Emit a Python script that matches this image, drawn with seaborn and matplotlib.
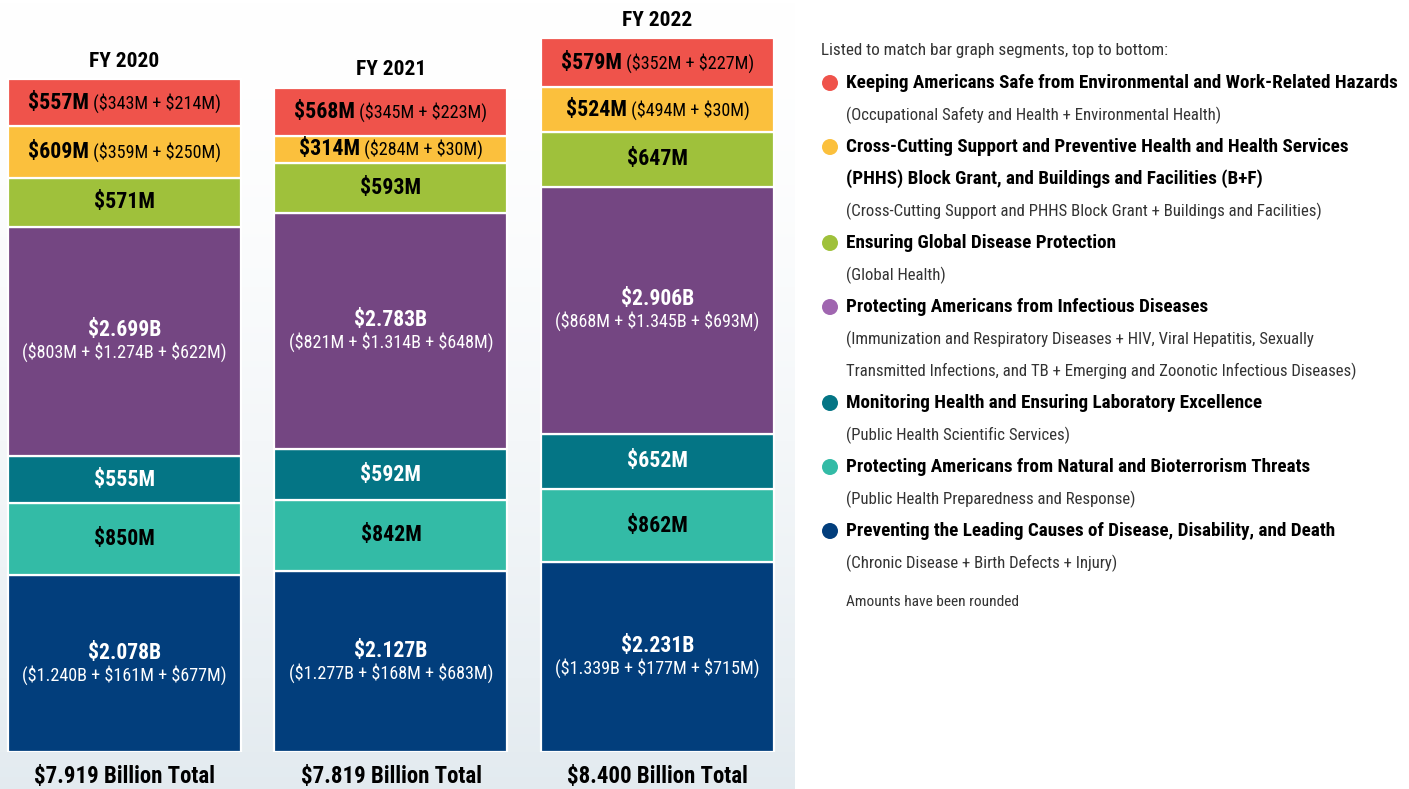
import numpy as np
import pandas as pd
import matplotlib
matplotlib.use("Agg")
import matplotlib.pyplot as plt
import seaborn as sns
from matplotlib import font_manager as fm
from matplotlib.patches import Ellipse

# ---------------- data ----------------
years = ["FY 2020", "FY 2021", "FY 2022"]
totals_label = ["$7.919 Billion Total", "$7.819 Billion Total", "$8.400 Billion Total"]

# segments, bottom to top (values in $M)
leading = [2078, 2127, 2231]
threats = [850, 842, 862]
monitoring = [555, 592, 652]
infectious = [2699, 2783, 2906]
global_health = [571, 593, 647]
crosscut = [609, 314, 524]
safe = [557, 568, 579]

leading_parts = [(1240, 161, 677), (1277, 168, 683), (1339, 177, 715)]
infectious_parts = [(803, 1274, 622), (821, 1314, 648), (868, 1345, 693)]
crosscut_parts = [(359, 250), (284, 30), (494, 30)]
safe_parts = [(343, 214), (345, 223), (352, 227)]

seg_names = ["leading", "threats", "monitoring", "infectious", "global", "crosscut", "safe"]
seg_values = [leading, threats, monitoring, infectious, global_health, crosscut, safe]
seg_colors = ["#023E7C", "#33BBA6", "#047585", "#744682", "#9FC13B", "#FBC03D", "#EF534B"]
seg_parts = [leading_parts, None, None, infectious_parts, None, crosscut_parts, safe_parts]
seg_textcolor = ["white", "black", "white", "white", "black", "black", "black"]
seg_inline = [False, False, False, False, False, True, True]

legend_intro = "Listed to match bar graph segments, top to bottom:"
legend_note = "Amounts have been rounded"
legend_items = [
    ("#EF534B", ["Keeping Americans Safe from Environmental and Work-Related Hazards"],
     ["(Occupational Safety and Health + Environmental Health)"]),
    ("#FBC03D", ["Cross-Cutting Support and Preventive Health and Health Services",
                 "(PHHS) Block Grant, and Buildings and Facilities (B+F)"],
     ["(Cross-Cutting Support and PHHS Block Grant + Buildings and Facilities)"]),
    ("#9FC13B", ["Ensuring Global Disease Protection"], ["(Global Health)"]),
    ("#A066B0", ["Protecting Americans from Infectious Diseases"],
     ["(Immunization and Respiratory Diseases + HIV, Viral Hepatitis, Sexually",
      "Transmitted Infections, and TB + Emerging and Zoonotic Infectious Diseases)"]),
    ("#047585", ["Monitoring Health and Ensuring Laboratory Excellence"],
     ["(Public Health Scientific Services)"]),
    ("#33BBA6", ["Protecting Americans from Natural and Bioterrorism Threats"],
     ["(Public Health Preparedness and Response)"]),
    ("#023E7C", ["Preventing the Leading Causes of Disease, Disability, and Death"],
     ["(Chronic Disease + Birth Defects + Injury)"]),
]


def fmt(v):
    return f"${v/1000:.3f}B" if v >= 1000 else f"${v}M"


def fmt_parts(p):
    return "(" + " + ".join(fmt(v) for v in p) + ")"


# ---------------- font choice (prefer a condensed face) ----------------
sns.set_theme(style="white")
names = {f.name for f in fm.fontManager.ttflist}
stretch_map = {}
for f in fm.fontManager.ttflist:
    stretch_map.setdefault(f.name, set()).add(str(f.stretch))
FAMILY, STRETCH = "Liberation Sans", "normal"
for pref in ["Roboto Condensed", "Liberation Sans Narrow", "Open Sans Condensed",
             "Noto Sans Condensed", "Arial Narrow", "DejaVu Sans Condensed"]:
    if pref in names:
        FAMILY, STRETCH = pref, "normal"
        break
else:
    for fam in ["Roboto", "Noto Sans", "Open Sans", "DejaVu Sans", "Liberation Sans"]:
        st = stretch_map.get(fam, set())
        if "condensed" in st or "semi-condensed" in st:
            FAMILY, STRETCH = fam, ("condensed" if "condensed" in st else "semi-condensed")
            break
plt.rcParams["font.family"] = [FAMILY, "DejaVu Sans"]
plt.rcParams["font.stretch"] = STRETCH

W, H = 1409, 789
fig = plt.figure(figsize=(W / 100, H / 100), dpi=100)
fig.patch.set_facecolor("white")
fig.canvas.draw()
renderer = fig.canvas.get_renderer()


def fit_size(text, target_px, weight="normal", cap=None):
    t = fig.text(0, 0, text, fontsize=20, fontweight=weight, parse_math=False)
    w = t.get_window_extent(renderer).width
    t.remove()
    s = 20 * target_px / w
    return min(s, cap) if cap else s


# sizes fitted to widths measured on the reference
S_LEG_B = fit_size(legend_items[0][1][0], 549, "bold", 15)
S_LEG_R = fit_size(legend_items[3][2][1], 513, "normal", 13.5)
S_INTRO = fit_size(legend_intro, 346, "normal", 12.5)
S_NOTE = fit_size(legend_note, 172, "normal", 11.5)
S_YEAR = fit_size("FY 2020", 70, "bold", 19)
S_TOT = fit_size(totals_label[0], 181, "bold", 19)
S_VAL = fit_size("$557M", 61, "bold", 17)
S_VALB = fit_size("$2.078B", 73, "bold", 17)
S_PART = fit_size("($1.240B + $161M + $677M)", 204, "normal", 13.5)

# background gradient on left panel
bg = fig.add_axes([0, 0, 795 / W, 1], zorder=-5)
grad = np.linspace(0, 1, 256) ** 1.6
rgb_top = np.array([1.0, 1.0, 1.0])
rgb_bot = np.array([0.89, 0.92, 0.94])
img = rgb_top[None, None, :] * (1 - grad[:, None, None]) + rgb_bot[None, None, :] * grad[:, None, None]
bg.imshow(img, aspect="auto", extent=[0, 1, 0, 1], origin="upper")
bg.axis("off")

# bar axes: pixel x 0..800, y from 752 (bottom) to 0 (top)
ax = fig.add_axes([0, (H - 752) / H, 800 / W, 752 / H])
ax.patch.set_alpha(0)

px_per_M = 0.08497
centers_px = [124.5, 391.5, 657.5]
spacing = 266.5
bar_width = 233 / spacing

df = pd.DataFrame({"year": years})
bottom = np.zeros(3)
for name, vals, col in zip(seg_names, seg_values, seg_colors):
    d = df.copy()
    d["value"] = vals
    sns.barplot(data=d, x="year", y="value", color=col, width=bar_width,
                bottom=bottom.copy(), edgecolor="white", linewidth=1.6,
                saturation=1, ax=ax, order=years)
    bottom = bottom + np.array(vals)

ax.set_xlim((0 - centers_px[0]) / spacing, (800 - centers_px[0]) / spacing)
ax.set_ylim(0, 752 / px_per_M)
ax.axis("off")

fig.canvas.draw()

# segment labels
bottom = np.zeros(3)
for name, vals, parts, tc, inline in zip(seg_names, seg_values, seg_parts, seg_textcolor, seg_inline):
    for i, v in enumerate(vals):
        yc = bottom[i] + v / 2
        vs = S_VALB if v >= 1000 else S_VAL
        if parts is None:
            ax.text(i, yc, fmt(v), ha="center", va="center", fontsize=vs,
                    fontweight="bold", color=tc, parse_math=False)
        elif inline:
            t1 = ax.text(0, 0, fmt(v), fontsize=vs, fontweight="bold", color=tc,
                         ha="left", va="center", parse_math=False)
            t2 = ax.text(0, 0, " " + fmt_parts(parts[i]), fontsize=S_PART, color=tc,
                         ha="left", va="center", parse_math=False)
            w1 = t1.get_window_extent(renderer).width
            w2 = t2.get_window_extent(renderer).width
            cx, cy = ax.transData.transform((i, yc))
            x1 = cx - (w1 + w2) / 2
            inv = ax.transData.inverted()
            t1.set_position(inv.transform((x1, cy)))
            t2.set_position(inv.transform((x1 + w1, cy)))
        else:
            ax.annotate(fmt(v), (i, yc), xytext=(0, 8), textcoords="offset points",
                        ha="center", va="center", fontsize=vs, fontweight="bold",
                        color=tc, parse_math=False)
            ax.annotate(fmt_parts(parts[i]), (i, yc), xytext=(0, -8), textcoords="offset points",
                        ha="center", va="center", fontsize=S_PART, color=tc, parse_math=False)
    bottom = bottom + np.array(vals)

# year titles
for i, tot in enumerate(bottom):
    ax.annotate(years[i], (i, tot), xytext=(0, 13), textcoords="offset points",
                ha="center", va="center", fontsize=S_YEAR, fontweight="bold", color="black",
                annotation_clip=False, parse_math=False)

# totals under bars
for i, lab in enumerate(totals_label):
    fig.text(centers_px[i] / W, 1 - 776 / H, lab, ha="center", va="center",
             fontsize=S_TOT, fontweight="bold", color="black", parse_math=False)

# legend panel
x_dot, x_txt, line_h = 830, 846, 32
fig.text(821 / W, 1 - 51 / H, legend_intro, ha="left", va="center",
         fontsize=S_INTRO, color="#333333")
y = 83
for col, bold_lines, reg_lines in legend_items:
    fig.add_artist(Ellipse((x_dot / W, 1 - y / H), 16 / W, 16 / H,
                           transform=fig.transFigure, facecolor=col, edgecolor="none"))
    for bl in bold_lines:
        fig.text(x_txt / W, 1 - y / H, bl, ha="left", va="center", fontsize=S_LEG_B,
                 fontweight="bold", color="black")
        y += line_h
    for rl in reg_lines:
        fig.text(x_txt / W, 1 - y / H, rl, ha="left", va="center", fontsize=S_LEG_R,
                 color="#333333")
        y += line_h

fig.text(x_txt / W, 1 - 602 / H, legend_note, ha="left", va="center",
         fontsize=S_NOTE, color="#333333")

fig.savefig("out.png", dpi=100, facecolor="white")
